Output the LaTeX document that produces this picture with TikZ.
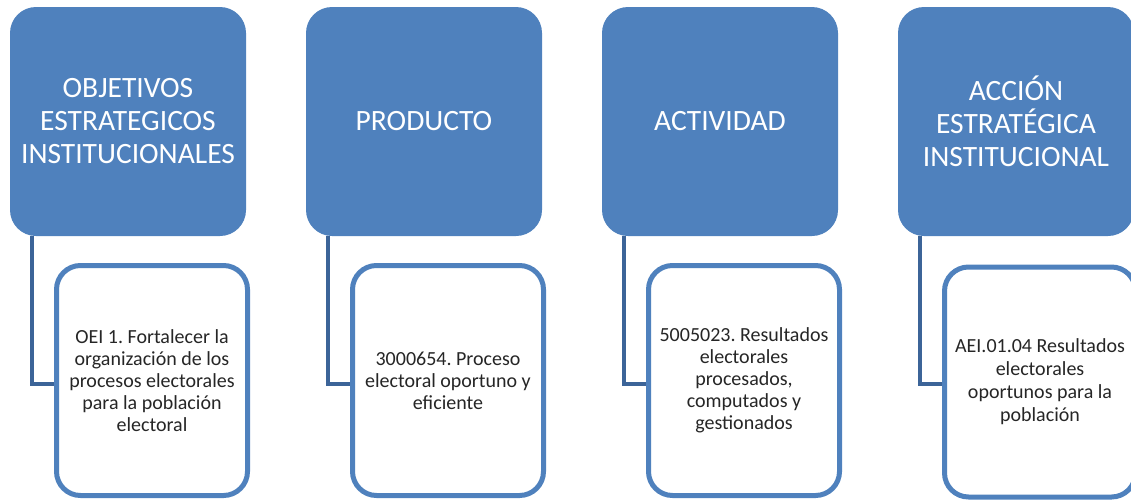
\documentclass[tikz,border=0pt]{standalone}
\usepackage{fontspec}
\setmainfont{Carlito}
\definecolor{topblue}{RGB}{79,129,189}
\definecolor{linkblue}{RGB}{60,100,152}
\definecolor{txtdark}{RGB}{38,38,38}
\tikzset{
  topbox/.style={fill=topblue, draw=none, rounded corners=26pt, minimum width=236pt, minimum height=229pt,
    align=center, text=white, inner sep=0pt,
    font=\fontsize{29.5}{33}\selectfont},
  subbox/.style={fill=white, draw=topblue, line width=5pt, rounded corners=24pt, minimum width=191pt, minimum height=230pt,
    align=center, text=txtdark, inner sep=0pt,
    font=\fontsize{20}{22}\selectfont},
  link/.style={draw=linkblue, line width=4pt}
}
\begin{document}
\frenchspacing
\begin{tikzpicture}[x=1pt,y=-1pt]
\useasboundingbox (0,0) rectangle (1131,499);
\node[topbox] (t1) at (128,121.5) {OBJETIVOS\\ESTRATEGICOS\\INSTITUCIONALES};
\node[topbox] (t2) at (424,121.5) {PRODUCTO};
\node[topbox] (t3) at (720,121.5) {ACTIVIDAD};
\node[topbox] (t4) at (1016,121.5) {ACCIÓN\\ESTRATÉGICA\\INSTITUCIONAL};
\foreach \i/\x in {1/152,2/448,3/744,4/1040}{
  \coordinate (c\i) at (\x-96,384);
}
\draw[link] ([xshift=22pt]t1.south west) |- (c1);
\draw[link] ([xshift=22pt]t2.south west) |- (c2);
\draw[link] ([xshift=22pt]t3.south west) |- (c3);
\draw[link] ([xshift=22pt]t4.south west) |- (c4);
\node[subbox] (b1) at (152,380.5) {OEI 1. Fortalecer la\\organización de los\\procesos electorales\\para la población\\electoral};
\node[subbox] (b2) at (448,380.5) {3000654. Proceso\\electoral oportuno y\\eficiente};
\node[subbox] (b3) at (744,380.5) {5005023. Resultados\\electorales\\procesados,\\computados y\\gestionados};
\node[subbox, font=\fontsize{20}{23}\selectfont] (b4) at (1040,382) {AEI.01.04 Resultados\\electorales\\oportunos para la\\población};
\end{tikzpicture}
\end{document}
